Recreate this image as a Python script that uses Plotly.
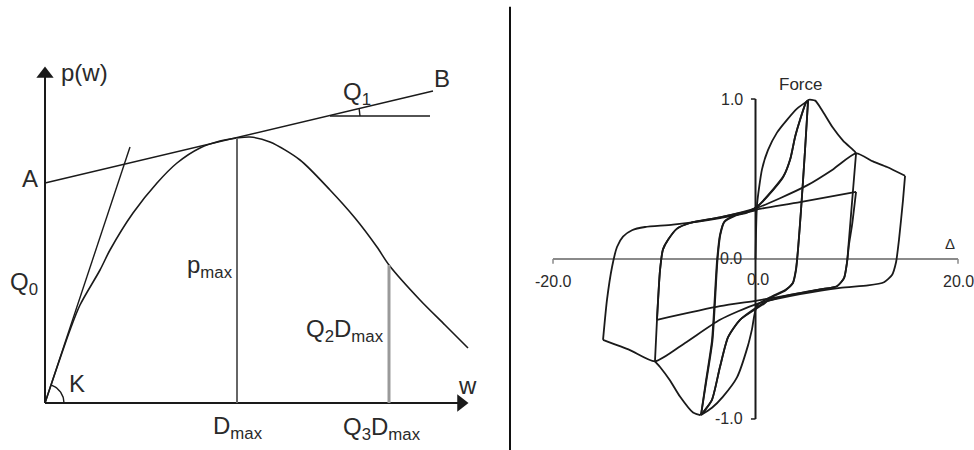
import numpy as np
import plotly.graph_objects as go

# ---------------- left panel: idealised load-slip curve p(w) ----------------
curve_w = [0, 25, 35, 55, 65, 88, 112, 132, 155, 175, 192, 205, 225, 255, 285, 310, 332, 344, 375, 400, 423]
curve_p = [0, 73, 98, 133, 153, 190, 220, 240, 255, 262, 265, 266, 261, 243, 213, 185, 156, 138, 103, 78, 55]

initial_stiffness_w = [0, 85]          # tangent K at the origin
initial_stiffness_p = [0, 256]

asymptote_w = [0, 388]                 # line A-B
asymptote_p = [220, 312]

q1_ref_w = [285, 385]                  # horizontal reference for angle Q1
q1_ref_p = [287, 287]

d_max = 192
p_max = 265
q3_d_max = 344
p_at_q3 = 138

w_axis_end = 425
p_axis_end = 338

# ---------------- right panel: cyclic force-displacement loops ----------------
hc1_d = [0.0, 0.05, 0.15, 0.64, 1.23, 2.12, 3.11, 4.10, 5.19]
hc1_f = [0.0, 0.16, 0.34, 0.56, 0.68, 0.79, 0.87, 0.94, 0.99]

hc2_d = [5.19, 4.89, 4.50, 4.20, 4.00, 3.70, 3.01, 1.43, 0.15, -0.35, -0.74, -1.83, -3.21, -4.30, -5.38]
hc2_f = [0.99, 0.68, 0.31, 0.06, -0.07, -0.15, -0.19, -0.24, -0.29, -0.44, -0.54, -0.74, -0.86, -0.93, -0.975]

hc3_d = [-5.38, -4.89, -4.30, -3.80, -3.51, -3.11, -2.03, -0.84, 0.15, 1.73, 2.72, 3.41, 3.90, 4.40, 4.99, 5.19]
hc3_f = [-0.975, -0.76, -0.51, -0.01, 0.15, 0.23, 0.27, 0.29, 0.325, 0.43, 0.51, 0.62, 0.76, 0.87, 0.98, 0.99]

hc4_d = [5.19, 4.89, 4.50, 4.20, 3.98, 3.68, 2.98, 1.43, 0.94, -1.53, -2.72, -3.51, -4.30, -5.19, -5.38]
hc4_f = [0.99, 0.68, 0.31, 0.06, -0.07, -0.15, -0.195, -0.245, -0.275, -0.38, -0.49, -0.675, -0.88, -0.96, -0.975]

hc5_d = [-5.38, -4.85, -4.25, -3.76, -3.48, -3.05, -2.0, -0.8, 0.2, 1.8, 2.78, 3.46, 3.93, 4.45, 5.0, 5.25,
         5.90, 6.57, 7.65, 8.64, 9.83, 9.93]
hc5_f = [-0.975, -0.76, -0.51, -0.01, 0.15, 0.235, 0.275, 0.295, 0.33, 0.44, 0.52, 0.63, 0.77, 0.88, 0.98, 0.995,
         0.99, 0.93, 0.82, 0.74, 0.67, 0.66]

hc6_d = [9.93, 9.63, 9.23, 9.04, 8.74, 8.05, 6.37, 3.41, 0.94, -1.53, -2.72, -3.51, -4.30, -5.19, -5.48,
         -6.17, -7.46, -8.44, -9.43, -9.93]
hc6_f = [0.66, 0.43, 0.12, -0.02, -0.12, -0.17, -0.19, -0.225, -0.27, -0.38, -0.49, -0.675, -0.88, -0.96, -0.975,
         -0.96, -0.86, -0.76, -0.675, -0.64]

hc7_d = [-9.93, -9.73, -9.43, -9.14, -8.64, -7.75, -6.47, -3.51, 0.15, 4.40, 9.93]
hc7_f = [-0.64, -0.38, -0.07, 0.06, 0.12, 0.19, 0.225, 0.26, 0.31, 0.355, 0.42]

hc8_d = [9.93, 9.53, 9.23, 9.04, 8.74, 8.05, 6.37, 3.41, 0.15, -3.51, -9.73]
hc8_f = [0.42, 0.21, 0.09, -0.02, -0.12, -0.17, -0.19, -0.225, -0.26, -0.295, -0.38]

hc9_d = [-9.73, -9.43, -9.14, -8.64, -7.75, -6.47, -3.51, 0.15, 2.42, 5.09, 7.65, 9.93, 11.60, 12.99, 14.77]
hc9_f = [-0.38, -0.07, 0.06, 0.12, 0.19, 0.225, 0.26, 0.32, 0.38, 0.46, 0.56, 0.66, 0.61, 0.575, 0.52]

hc10_d = [14.77, 14.57, 14.17, 13.88, 13.48, 12.69, 11.11, 8.35, 4.40, 0.15, -3.51, -6.96, -9.93, -12.40, -15.06]
hc10_f = [0.52, 0.37, 0.12, -0.02, -0.10, -0.145, -0.165, -0.18, -0.22, -0.28, -0.38, -0.525, -0.64, -0.57, -0.506]

hc11_d = [-15.06, -14.67, -14.17, -13.68, -13.09, -12.20, -10.91, -8.15, -3.51, 0.15]
hc11_f = [-0.506, -0.256, -0.05, 0.075, 0.14, 0.18, 0.20, 0.215, 0.256, 0.306]

disp_ticks = [-20.0, 0.0, 20.0]
force_ticks = [-1.0, 0.0, 1.0]

FONT = "Liberation Sans, Arial, sans-serif"
INK = "#1a1a1a"
TXT = "#2a2a2a"

fig = go.Figure()


def left_line(w, p, color=INK, width=1.6, shape="linear"):
    fig.add_trace(go.Scatter(x=w, y=p, mode="lines", xaxis="x", yaxis="y",
                             line=dict(color=color, width=width, shape=shape, smoothing=0.8),
                             hoverinfo="skip", showlegend=False))


def right_line(d, f, color=INK, width=1.8, shape="spline"):
    fig.add_trace(go.Scatter(x=d, y=f, mode="lines", xaxis="x2", yaxis="y2",
                             line=dict(color=color, width=width, shape=shape, smoothing=0.6),
                             hoverinfo="skip", showlegend=False))


# ---- left panel axes with arrowheads ----
left_line([0, 0], [0, p_axis_end - 8], width=2)
left_line([0, w_axis_end - 8], [0, 0], width=2)
fig.add_trace(go.Scatter(x=[0], y=[p_axis_end - 9], mode="markers", xaxis="x", yaxis="y",
                         marker=dict(symbol="triangle-up", size=15, color=INK, line=dict(width=0)),
                         hoverinfo="skip", showlegend=False))
fig.add_trace(go.Scatter(x=[w_axis_end - 9], y=[0], mode="markers", xaxis="x", yaxis="y",
                         marker=dict(symbol="triangle-right", size=15, color=INK, line=dict(width=0)),
                         hoverinfo="skip", showlegend=False))

# ---- left panel marks ----
left_line(curve_w, curve_p, shape="spline")
left_line(initial_stiffness_w, initial_stiffness_p, width=1.4)
left_line(asymptote_w, asymptote_p, width=1.4)
left_line(q1_ref_w, q1_ref_p, width=1.6)
left_line([d_max, d_max], [0, p_max], color="#666666", width=2)
left_line([q3_d_max, q3_d_max], [0, p_at_q3], color="#9a9a9a", width=3)

# angle arcs built from the line directions
k_angle = np.arctan2(initial_stiffness_p[1], initial_stiffness_w[1])
t = np.linspace(0, k_angle, 20)
left_line(19 * np.cos(t), 19 * np.sin(t), width=1.4)

q1_angle = np.arctan2(asymptote_p[1] - asymptote_p[0], asymptote_w[1] - asymptote_w[0])
t = np.linspace(0, q1_angle, 10)
left_line(q1_ref_w[0] + 30 * np.cos(t), q1_ref_p[0] + 30 * np.sin(t), width=1.4)

# ---- right panel axes ----
right_line([disp_ticks[0], disp_ticks[-1]], [0, 0], color="#8a8a8a", width=2, shape="linear")
right_line([disp_ticks[0], disp_ticks[0]], [0, -0.03], color="#8a8a8a", width=1.5, shape="linear")
right_line([disp_ticks[-1], disp_ticks[-1]], [0, -0.03], color="#8a8a8a", width=1.5, shape="linear")
right_line([0, 0], [force_ticks[0], force_ticks[-1]], color=INK, width=2, shape="linear")
right_line([0, -0.45], [force_ticks[-1], force_ticks[-1]], color=INK, width=1.5, shape="linear")
right_line([0, -0.45], [force_ticks[0], force_ticks[0]], color=INK, width=1.5, shape="linear")

# ---- hysteresis branches ----
for d, f in [(hc1_d, hc1_f), (hc2_d, hc2_f), (hc3_d, hc3_f), (hc4_d, hc4_f), (hc5_d, hc5_f),
             (hc6_d, hc6_f), (hc7_d, hc7_f), (hc8_d, hc8_f), (hc9_d, hc9_f), (hc10_d, hc10_f),
             (hc11_d, hc11_f)]:
    right_line(d, f)

annotations = []


def ltext(text, w, p, size=24, xanchor="center", yanchor="middle"):
    annotations.append(dict(text=text, x=w, y=p, xref="x", yref="y", showarrow=False,
                            xanchor=xanchor, yanchor=yanchor,
                            font=dict(family=FONT, size=size, color=TXT)))


def rtext(text, d, f, size=16, xanchor="center", yanchor="middle"):
    annotations.append(dict(text=text, x=d, y=f, xref="x2", yref="y2", showarrow=False,
                            xanchor=xanchor, yanchor=yanchor,
                            font=dict(family=FONT, size=size, color=TXT)))


ltext("p(w)", 14, 331, xanchor="left")
ltext("A", -15, 225)
ltext("B", 397, 325)
ltext("Q<sub>1</sub>", 296, 310, xanchor="left")
ltext("Q<sub>0</sub>", -37, 120, xanchor="left")
ltext("K", 22, 20, xanchor="left")
ltext("p<sub>max</sub>", 190, 137, xanchor="right")
ltext("Q<sub>2</sub>D<sub>max</sub>", 341, 73, xanchor="right")
ltext("w", 422, 18)
ltext("D<sub>max</sub>", 166, -24, xanchor="left")
ltext("Q<sub>3</sub>D<sub>max</sub>", 296, -25, xanchor="left")

rtext("1.0", -1.0, force_ticks[-1], xanchor="right")
rtext("0.0", -1.1, force_ticks[1], xanchor="right")
rtext("-1.0", -1.0, force_ticks[0], xanchor="right")
rtext("-20.0", disp_ticks[0], -0.14)
rtext("0.0", disp_ticks[1] + 0.2, -0.13)
rtext("20.0", disp_ticks[2], -0.14)
rtext("Force", 4.4, 1.09, size=17)
rtext("Δ", 19.2, 0.1, size=15)

fig.update_layout(
    width=974, height=450,
    margin=dict(l=0, r=0, t=0, b=0),
    font=dict(family=FONT, size=15, color=TXT),
    paper_bgcolor="white", plot_bgcolor="white",
    xaxis=dict(domain=[0, 0.5], range=[-45, 442], visible=False, fixedrange=True),
    yaxis=dict(domain=[0, 1], range=[-47, 403], visible=False, fixedrange=True),
    xaxis2=dict(domain=[0.5, 1], range=[-26.52, 21.58], visible=False, anchor="y2", fixedrange=True),
    yaxis2=dict(domain=[0, 1], range=[-1.194, 1.619], visible=False, anchor="x2", fixedrange=True),
    annotations=annotations,
    shapes=[dict(type="line", xref="paper", yref="paper", x0=510 / 974, x1=510 / 974, y0=0, y1=0.985,
                 line=dict(color="#111111", width=2))],
    showlegend=False,
)

fig.write_html("out.html")
